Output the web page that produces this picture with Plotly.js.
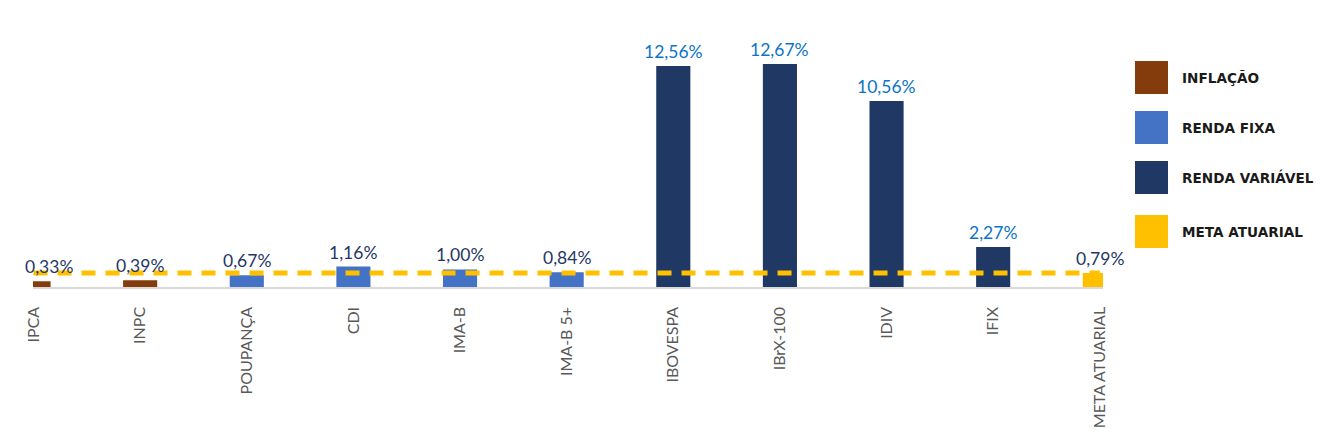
<!DOCTYPE html>
<html>
<head>
<meta charset="utf-8">
<script src="https://cdn.plot.ly/plotly-3.0.1.min.js"></script>
<style>html,body{margin:0;padding:0;background:#fff;}#chart{width:1320px;height:446px;}</style>
</head>
<body>
<div id="chart"></div>
<script>
const categories = ["IPCA","INPC","POUPANÇA","CDI","IMA-B","IMA-B 5+","IBOVESPA","IBrX-100","IDIV","IFIX","META ATUARIAL"];
const values = [0.33, 0.39, 0.67, 1.16, 1.00, 0.84, 12.56, 12.67, 10.56, 2.27, 0.79];
const groups = ["INFLAÇÃO","INFLAÇÃO","RENDA FIXA","RENDA FIXA","RENDA FIXA","RENDA FIXA","RENDA VARIÁVEL","RENDA VARIÁVEL","RENDA VARIÁVEL","RENDA VARIÁVEL","META ATUARIAL"];
const legendLabels = ["INFLAÇÃO","RENDA FIXA","RENDA VARIÁVEL","META ATUARIAL"];
const metaValue = 0.79;

const groupColors = {"INFLAÇÃO":"#843C0C","RENDA FIXA":"#4472C4","RENDA VARIÁVEL":"#203864","META ATUARIAL":"#FFC000"};
const labelColors = {"INFLAÇÃO":"#1F3864","RENDA FIXA":"#1F3864","RENDA VARIÁVEL":"#0B74C8","META ATUARIAL":"#1F3864"};

const bars = {
  type: "bar",
  x: categories,
  y: values,
  width: 0.32,
  marker: {color: groups.map(g => groupColors[g])},
  hoverinfo: "none",
  showlegend: false
};
const metaLine = {
  type: "scatter",
  mode: "lines",
  x: categories,
  y: categories.map(() => metaValue),
  line: {color: "#FFC000", width: 5, dash: "14px,10px"},
  hoverinfo: "none",
  showlegend: false
};

const annotations = categories.map((c, i) => ({
  x: c, y: values[i], xref: "x", yref: "y",
  text: values[i].toFixed(2).replace(".", ",") + "%",
  showarrow: false, yanchor: "bottom", yshift: 2,
  xshift: i === 0 ? 15 : 0,
  font: {family: "Lato, 'Open Sans', sans-serif", size: 17.5, color: labelColors[groups[i]]}
}));

const plotW = 1070, plotH = 238, plotL = 33, plotBottom = 287;
const px = v => (v - plotL) / plotW;
const py = v => (plotBottom - v) / plotH;
const legendTops = [61, 111, 161, 215];
const shapes = legendLabels.map((l, i) => ({
  type: "rect", xref: "paper", yref: "paper",
  x0: px(1135), x1: px(1168), y0: py(legendTops[i] + 33), y1: py(legendTops[i]),
  fillcolor: groupColors[l], line: {width: 0}
}));
legendLabels.forEach((l, i) => annotations.push({
  xref: "paper", yref: "paper", x: px(1180), y: py(legendTops[i] + 16.5),
  xanchor: "left", yanchor: "middle", showarrow: false, text: l,
  font: {family: "'DejaVu Sans', sans-serif", size: 13.6, color: "#1a1a1a", weight: "bold"}
}));

const layout = {
  width: 1320, height: 446,
  margin: {l: plotL, r: 1320 - plotL - plotW, t: 446 - 159 - plotH, b: 159, pad: 0},
  paper_bgcolor: "#ffffff", plot_bgcolor: "#ffffff",
  xaxis: {
    type: "category", range: [-0.005, 10.03],
    showline: true, linecolor: "#D9D9D9", linewidth: 1.5,
    showgrid: false, zeroline: false, ticks: "",
    tickangle: -90, ticklabelstandoff: 12,
    tickfont: {family: "Lato, 'Open Sans', sans-serif", size: 16, color: "#595959"}
  },
  yaxis: {range: [0, 13.52], visible: false, showgrid: false, zeroline: false},
  annotations: annotations,
  shapes: shapes,
  bargap: 0.68
};

Plotly.newPlot("chart", [bars, metaLine], layout, {displayModeBar: false, staticPlot: true});
</script>
</body>
</html>
